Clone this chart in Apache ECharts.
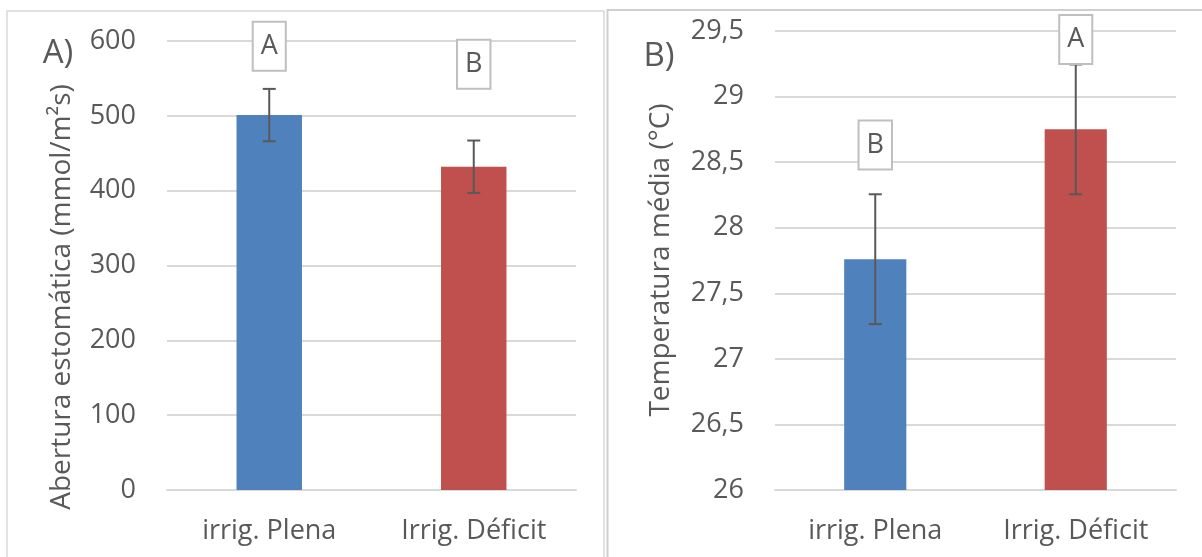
<!DOCTYPE html>
<html>
<head>
<meta charset="utf-8">
<script src="https://cdn.jsdelivr.net/npm/echarts@6/dist/echarts.min.js"></script>
<style>
html,body{margin:0;padding:0;background:#fff;}
#c{width:1202px;height:557px;}
</style>
</head>
<body>
<div id="c"></div>
<script>
// ---- data ----
var categories = ['irrig. Plena', 'Irrig. Déficit'];
// Panel A: stomatal opening (mmol/m²s)
var aperturaValues = [501, 432];
var aperturaErrors = [35, 35];
var aperturaLetters = ['A', 'B'];
var aperturaLetterPos = [593, 569];
var aperturaTicks = { min: 0, max: 600, interval: 100 };
// Panel B: mean temperature (°C)
var tempValues = [27.76, 28.75];
var tempErrors = [0.495, 0.495];
var tempLetters = ['B', 'A'];
var tempLetterPos = [28.63, 29.435];
var tempTicks = { min: 26, max: 29.5, interval: 0.5 };
var barColors = ['#4f81bd', '#c0504d'];

var FONT = 'Open Sans';
var TXT = '#595959';
var FS = 27;

function errData(vals, errs) {
  return vals.map(function (v, i) { return [i, v - errs[i], v + errs[i]]; });
}
function letterData(pos, letters) {
  return pos.map(function (p, i) { return { value: [i, p], name: letters[i] }; });
}
function errRender(params, api) {
  var x = api.value(0);
  var lo = api.coord([x, api.value(1)]);
  var hi = api.coord([x, api.value(2)]);
  var cw = 6.5;
  var st = { stroke: '#595959', lineWidth: 2 };
  return {
    type: 'group',
    children: [
      { type: 'line', shape: { x1: hi[0], y1: hi[1], x2: lo[0], y2: lo[1] }, style: st },
      { type: 'line', shape: { x1: hi[0] - cw, y1: hi[1], x2: hi[0] + cw, y2: hi[1] }, style: st },
      { type: 'line', shape: { x1: lo[0] - cw, y1: lo[1], x2: lo[0] + cw, y2: lo[1] }, style: st }
    ]
  };
}
function commaFmt(v) { return String(v).replace('.', ','); }

var chart = echarts.init(document.getElementById('c'), null, { renderer: 'canvas' });

var xAxisCommon = {
  type: 'category',
  data: categories,
  axisTick: { show: false },
  axisLine: { lineStyle: { color: '#d9d9d9', width: 2 } },
  axisLabel: { color: TXT, fontFamily: FONT, fontSize: FS, margin: 28 }
};
var yAxisCommon = {
  type: 'value',
  axisLine: { show: false },
  axisTick: { show: false },
  splitLine: { lineStyle: { color: '#d9d9d9', width: 2 } },
  axisLabel: { color: TXT, fontFamily: FONT, fontSize: FS, margin: 31 }
};
var letterLabel = {
  show: true,
  position: 'inside',
  formatter: '{b}',
  color: TXT,
  opacity: 1,
  fontFamily: FONT,
  fontSize: FS,
  backgroundColor: '#fff',
  borderColor: '#bfbfbf',
  borderWidth: 2,
  padding: [11, 7, 9, 7]
};
function gtext(x, y, txt, size, rot) {
  return {
    type: 'text', x: x, y: y, rotation: rot || 0, z: 10,
    style: { text: txt, fill: TXT, fontFamily: FONT, fontSize: size, align: 'center', verticalAlign: 'middle' }
  };
}

chart.setOption({
  animation: false,
  backgroundColor: '#fff',
  graphic: [
    { type: 'rect', shape: { x: 7, y: 11, width: 597, height: 560 }, style: { fill: 'none', stroke: '#d9d9d9', lineWidth: 1.5 }, z: -10 },
    { type: 'rect', shape: { x: 607.5, y: 10, width: 600, height: 560 }, style: { fill: 'none', stroke: '#cfcfcf', lineWidth: 2 }, z: -10 },
    gtext(58, 54, 'A)', 33),
    gtext(659, 57, 'B)', 33),
    gtext(62, 297, 'Abertura estomática (mmol/m²s)', 28, Math.PI / 2),
    gtext(661, 260, 'Temperatura média (°C)', 28, Math.PI / 2)
  ],
  grid: [
    { left: 167, right: 626, top: 41, bottom: 67 },
    { left: 775, right: 26, top: 31, bottom: 67 }
  ],
  xAxis: [
    Object.assign({ gridIndex: 0 }, xAxisCommon),
    Object.assign({ gridIndex: 1 }, xAxisCommon)
  ],
  yAxis: [
    Object.assign({ gridIndex: 0, min: aperturaTicks.min, max: aperturaTicks.max, interval: aperturaTicks.interval }, yAxisCommon),
    Object.assign({ gridIndex: 1, min: tempTicks.min, max: tempTicks.max, interval: tempTicks.interval }, yAxisCommon,
      { axisLabel: Object.assign({}, yAxisCommon.axisLabel, { formatter: commaFmt }) })
  ],
  series: [
    {
      type: 'bar', xAxisIndex: 0, yAxisIndex: 0, barWidth: '32%',
      data: aperturaValues.map(function (v, i) { return { value: v, itemStyle: { color: barColors[i] } }; })
    },
    {
      type: 'custom', xAxisIndex: 0, yAxisIndex: 0, renderItem: errRender,
      data: errData(aperturaValues, aperturaErrors), z: 5
    },
    {
      type: 'scatter', xAxisIndex: 0, yAxisIndex: 0, symbolSize: 0, itemStyle: { color: '#fff', opacity: 1 },
      label: letterLabel, data: letterData(aperturaLetterPos, aperturaLetters), z: 6
    },
    {
      type: 'bar', xAxisIndex: 1, yAxisIndex: 1, barWidth: '31%',
      data: tempValues.map(function (v, i) { return { value: v, itemStyle: { color: barColors[i] } }; })
    },
    {
      type: 'custom', xAxisIndex: 1, yAxisIndex: 1, renderItem: errRender,
      data: errData(tempValues, tempErrors), z: 5
    },
    {
      type: 'scatter', xAxisIndex: 1, yAxisIndex: 1, symbolSize: 0, itemStyle: { color: '#fff', opacity: 1 },
      label: letterLabel, data: letterData(tempLetterPos, tempLetters), z: 6
    }
  ]
});
</script>
</body>
</html>
